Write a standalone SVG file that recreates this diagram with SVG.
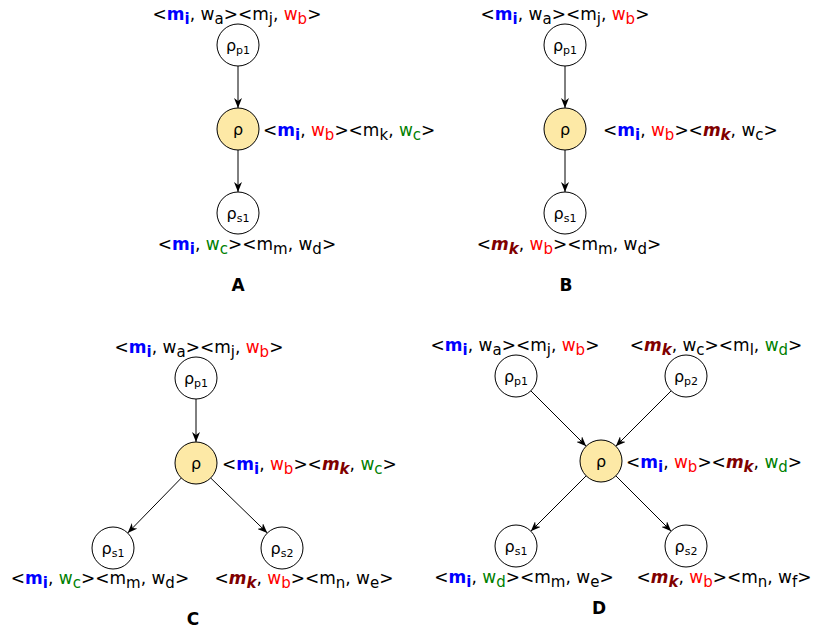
<svg xmlns="http://www.w3.org/2000/svg" width="816" height="630" viewBox="0 0 816 630">
<style>
text{font-family:"DejaVu Sans",sans-serif;font-size:17px;fill:#000}
.s{font-size:15px}
.bl{fill:#0000ff;font-weight:bold}
.r{fill:#ff0000}
.g{fill:#008000}
.dr{fill:#800000;font-weight:bold;font-style:italic}
.n{fill:#fff;stroke:#000;stroke-width:1}
.c{fill:#fde9a6;stroke:#000;stroke-width:1}
.nl{text-anchor:middle;font-size:16px}
.ns{font-size:11px}
.lbl{font-weight:bold;font-size:17px;text-anchor:middle}
.e{stroke:#000;stroke-width:1;fill:none;marker-end:url(#ah)}
.m{text-anchor:middle}
</style>
<defs>
<marker id="ah" markerUnits="userSpaceOnUse" markerWidth="10" markerHeight="8" refX="10" refY="4" orient="auto">
<path d="M0,0 L10,4 L0,8 L3,4 z" fill="#000"/>
</marker>
</defs>
<g id="connectors">
<line class="e" x1="238" y1="66" x2="238" y2="108"/>
<line class="e" x1="238" y1="150" x2="238" y2="192"/>
<line class="e" x1="565" y1="66" x2="565" y2="108"/>
<line class="e" x1="565" y1="150" x2="565" y2="192"/>
<line class="e" x1="196" y1="399" x2="196" y2="442"/>
<line class="e" x1="181.3" y1="478" x2="127.7" y2="533"/>
<line class="e" x1="210.7" y1="478" x2="267.3" y2="533"/>
<line class="e" x1="530.8" y1="390.8" x2="586.2" y2="446.2"/>
<line class="e" x1="671.2" y1="390.8" x2="615.8" y2="446.2"/>
<line class="e" x1="586.2" y1="475.8" x2="530.8" y2="531.2"/>
<line class="e" x1="615.8" y1="475.8" x2="671.2" y2="531.2"/>
</g>
<!-- Panel A -->
<g id="A_p1"><circle class="n" cx="238" cy="45" r="21"/><text class="nl" x="238" y="51">ρ<tspan class="ns" dy="3">p1</tspan></text></g>
<g id="A_rho"><circle class="c" cx="238" cy="129" r="21"/><text class="nl" x="238" y="135">ρ</text></g>
<g id="A_s1"><circle class="n" cx="238" cy="213" r="21"/><text class="nl" x="238" y="219">ρ<tspan class="ns" dy="3">s1</tspan></text></g>
<text class="m" x="237" y="20">&lt;<tspan class="bl">m</tspan><tspan class="bl s" dy="4">i</tspan><tspan dy="-4">, w</tspan><tspan class="s" dy="4">a</tspan><tspan dy="-4">&gt;&lt;m</tspan><tspan class="s" dy="4">j</tspan><tspan dy="-4">, </tspan><tspan class="r">w</tspan><tspan class="r s" dy="4">b</tspan><tspan dy="-4">&gt;</tspan></text>
<text x="263" y="136">&lt;<tspan class="bl">m</tspan><tspan class="bl s" dy="4">i</tspan><tspan dy="-4">, </tspan><tspan class="r">w</tspan><tspan class="r s" dy="4">b</tspan><tspan dy="-4">&gt;&lt;m</tspan><tspan class="s" dy="4">k</tspan><tspan dy="-4">, </tspan><tspan class="g">w</tspan><tspan class="g s" dy="4">c</tspan><tspan dy="-4">&gt;</tspan></text>
<text class="m" x="247" y="250">&lt;<tspan class="bl">m</tspan><tspan class="bl s" dy="4">i</tspan><tspan dy="-4">, </tspan><tspan class="g">w</tspan><tspan class="g s" dy="4">c</tspan><tspan dy="-4">&gt;&lt;m</tspan><tspan class="s" dy="4">m</tspan><tspan dy="-4">, w</tspan><tspan class="s" dy="4">d</tspan><tspan dy="-4">&gt;</tspan></text>
<text class="lbl" x="238" y="291">A</text>
<!-- Panel B -->
<g id="B_p1"><circle class="n" cx="565" cy="45" r="21"/><text class="nl" x="565" y="51">ρ<tspan class="ns" dy="3">p1</tspan></text></g>
<g id="B_rho"><circle class="c" cx="565" cy="129" r="21"/><text class="nl" x="565" y="135">ρ</text></g>
<g id="B_s1"><circle class="n" cx="565" cy="213" r="21"/><text class="nl" x="565" y="219">ρ<tspan class="ns" dy="3">s1</tspan></text></g>
<text class="m" x="565" y="20">&lt;<tspan class="bl">m</tspan><tspan class="bl s" dy="4">i</tspan><tspan dy="-4">, w</tspan><tspan class="s" dy="4">a</tspan><tspan dy="-4">&gt;&lt;m</tspan><tspan class="s" dy="4">j</tspan><tspan dy="-4">, </tspan><tspan class="r">w</tspan><tspan class="r s" dy="4">b</tspan><tspan dy="-4">&gt;</tspan></text>
<text x="603" y="136">&lt;<tspan class="bl">m</tspan><tspan class="bl s" dy="4">i</tspan><tspan dy="-4">, </tspan><tspan class="r">w</tspan><tspan class="r s" dy="4">b</tspan><tspan dy="-4">&gt;&lt;</tspan><tspan class="dr">m</tspan><tspan class="dr s" dy="4">k</tspan><tspan dy="-4">, w</tspan><tspan class="s" dy="4">c</tspan><tspan dy="-4">&gt;</tspan></text>
<text class="m" x="569" y="250">&lt;<tspan class="dr">m</tspan><tspan class="dr s" dy="4">k</tspan><tspan dy="-4">, </tspan><tspan class="r">w</tspan><tspan class="r s" dy="4">b</tspan><tspan dy="-4">&gt;&lt;m</tspan><tspan class="s" dy="4">m</tspan><tspan dy="-4">, w</tspan><tspan class="s" dy="4">d</tspan><tspan dy="-4">&gt;</tspan></text>
<text class="lbl" x="566" y="291">B</text>
<!-- Panel C -->
<g id="C_p1"><circle class="n" cx="196" cy="378" r="21"/><text class="nl" x="196" y="384">ρ<tspan class="ns" dy="3">p1</tspan></text></g>
<g id="C_rho"><circle class="c" cx="196" cy="463" r="21"/><text class="nl" x="196" y="469">ρ</text></g>
<g id="C_s1"><circle class="n" cx="113" cy="548" r="21"/><text class="nl" x="113" y="554">ρ<tspan class="ns" dy="3">s1</tspan></text></g>
<g id="C_s2"><circle class="n" cx="282" cy="548" r="21"/><text class="nl" x="282" y="554">ρ<tspan class="ns" dy="3">s2</tspan></text></g>
<text class="m" x="199" y="353">&lt;<tspan class="bl">m</tspan><tspan class="bl s" dy="4">i</tspan><tspan dy="-4">, w</tspan><tspan class="s" dy="4">a</tspan><tspan dy="-4">&gt;&lt;m</tspan><tspan class="s" dy="4">j</tspan><tspan dy="-4">, </tspan><tspan class="r">w</tspan><tspan class="r s" dy="4">b</tspan><tspan dy="-4">&gt;</tspan></text>
<text x="222" y="470">&lt;<tspan class="bl">m</tspan><tspan class="bl s" dy="4">i</tspan><tspan dy="-4">, </tspan><tspan class="r">w</tspan><tspan class="r s" dy="4">b</tspan><tspan dy="-4">&gt;&lt;</tspan><tspan class="dr">m</tspan><tspan class="dr s" dy="4">k</tspan><tspan dy="-4">, </tspan><tspan class="g">w</tspan><tspan class="g s" dy="4">c</tspan><tspan dy="-4">&gt;</tspan></text>
<text class="m" x="100" y="584">&lt;<tspan class="bl">m</tspan><tspan class="bl s" dy="4">i</tspan><tspan dy="-4">, </tspan><tspan class="g">w</tspan><tspan class="g s" dy="4">c</tspan><tspan dy="-4">&gt;&lt;m</tspan><tspan class="s" dy="4">m</tspan><tspan dy="-4">, w</tspan><tspan class="s" dy="4">d</tspan><tspan dy="-4">&gt;</tspan></text>
<text class="m" x="304" y="584">&lt;<tspan class="dr">m</tspan><tspan class="dr s" dy="4">k</tspan><tspan dy="-4">, </tspan><tspan class="r">w</tspan><tspan class="r s" dy="4">b</tspan><tspan dy="-4">&gt;&lt;m</tspan><tspan class="s" dy="4">n</tspan><tspan dy="-4">, w</tspan><tspan class="s" dy="4">e</tspan><tspan dy="-4">&gt;</tspan></text>
<text class="lbl" x="193" y="625">C</text>
<!-- Panel D -->
<g id="D_p1"><circle class="n" cx="516" cy="376" r="21"/><text class="nl" x="516" y="382">ρ<tspan class="ns" dy="3">p1</tspan></text></g>
<g id="D_p2"><circle class="n" cx="686" cy="376" r="21"/><text class="nl" x="686" y="382">ρ<tspan class="ns" dy="3">p2</tspan></text></g>
<g id="D_rho"><circle class="c" cx="601" cy="461" r="21"/><text class="nl" x="601" y="467">ρ</text></g>
<g id="D_s1"><circle class="n" cx="516" cy="546" r="21"/><text class="nl" x="516" y="552">ρ<tspan class="ns" dy="3">s1</tspan></text></g>
<g id="D_s2"><circle class="n" cx="686" cy="546" r="21"/><text class="nl" x="686" y="552">ρ<tspan class="ns" dy="3">s2</tspan></text></g>
<text class="m" x="515" y="351">&lt;<tspan class="bl">m</tspan><tspan class="bl s" dy="4">i</tspan><tspan dy="-4">, w</tspan><tspan class="s" dy="4">a</tspan><tspan dy="-4">&gt;&lt;m</tspan><tspan class="s" dy="4">j</tspan><tspan dy="-4">, </tspan><tspan class="r">w</tspan><tspan class="r s" dy="4">b</tspan><tspan dy="-4">&gt;</tspan></text>
<text class="m" x="716" y="351">&lt;<tspan class="dr">m</tspan><tspan class="dr s" dy="4">k</tspan><tspan dy="-4">, w</tspan><tspan class="s" dy="4">c</tspan><tspan dy="-4">&gt;&lt;m</tspan><tspan class="s" dy="4">l</tspan><tspan dy="-4">, </tspan><tspan class="g">w</tspan><tspan class="g s" dy="4">d</tspan><tspan dy="-4">&gt;</tspan></text>
<text x="626" y="468">&lt;<tspan class="bl">m</tspan><tspan class="bl s" dy="4">i</tspan><tspan dy="-4">, </tspan><tspan class="r">w</tspan><tspan class="r s" dy="4">b</tspan><tspan dy="-4">&gt;&lt;</tspan><tspan class="dr">m</tspan><tspan class="dr s" dy="4">k</tspan><tspan dy="-4">, </tspan><tspan class="g">w</tspan><tspan class="g s" dy="4">d</tspan><tspan dy="-4">&gt;</tspan></text>
<text class="m" x="524" y="583">&lt;<tspan class="bl">m</tspan><tspan class="bl s" dy="4">i</tspan><tspan dy="-4">, </tspan><tspan class="g">w</tspan><tspan class="g s" dy="4">d</tspan><tspan dy="-4">&gt;&lt;m</tspan><tspan class="s" dy="4">m</tspan><tspan dy="-4">, w</tspan><tspan class="s" dy="4">e</tspan><tspan dy="-4">&gt;</tspan></text>
<text class="m" x="724" y="583">&lt;<tspan class="dr">m</tspan><tspan class="dr s" dy="4">k</tspan><tspan dy="-4">, </tspan><tspan class="r">w</tspan><tspan class="r s" dy="4">b</tspan><tspan dy="-4">&gt;&lt;m</tspan><tspan class="s" dy="4">n</tspan><tspan dy="-4">, w</tspan><tspan class="s" dy="4">f</tspan><tspan dy="-4">&gt;</tspan></text>
<text class="lbl" x="599" y="614">D</text>
</svg>
